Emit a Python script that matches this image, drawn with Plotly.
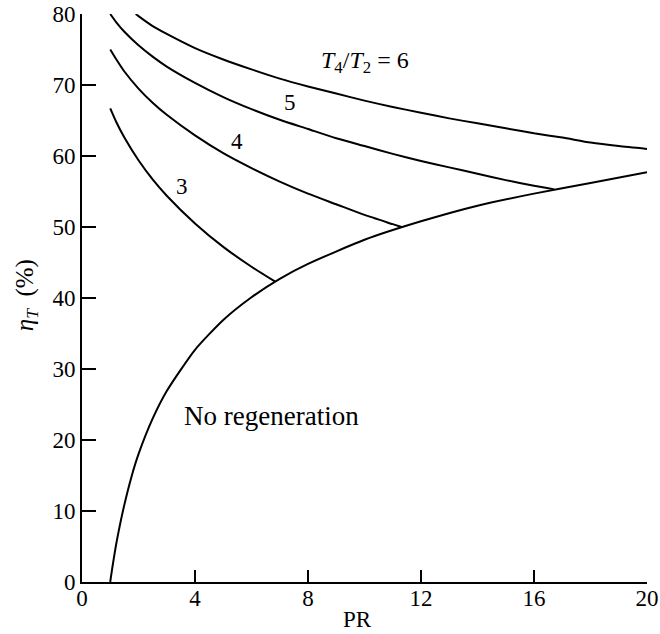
import plotly.graph_objects as go

# Pressure ratio (PR) and thermal efficiency (%)
pr_noregen = [1.0, 1.02, 1.05, 1.1, 1.2, 1.3, 1.5, 1.75, 2, 2.5, 3, 4, 5, 6, 7, 8, 10, 12, 14, 16, 18, 20]
eta_noregen = [0.0, 0.6, 1.4, 2.7, 5.1, 7.2, 10.9, 14.8, 18.0, 23.0, 26.9, 32.7, 36.9, 40.1, 42.7, 44.8, 48.2, 50.8, 53.0, 54.7, 56.2, 57.7]

pr_t3 = [1.0, 1.2, 1.5, 2, 2.5, 3, 4, 5, 6, 6.84]
eta_t3 = [66.7, 64.9, 62.6, 59.4, 56.7, 54.4, 50.5, 47.2, 44.4, 42.3]

pr_t4 = [1.0, 1.2, 1.5, 2, 2.5, 3, 4, 5, 6, 7, 8, 9, 10, 11, 11.31]
eta_t4 = [75.0, 73.7, 71.9, 69.5, 67.5, 65.8, 62.9, 60.4, 58.3, 56.4, 54.7, 53.2, 51.7, 50.4, 50.0]

pr_t5 = [1.0, 1.2, 1.5, 2, 2.5, 3, 4, 5, 6, 7, 8, 9, 10, 11, 12, 13, 14, 15, 16, 16.72]
eta_t5 = [80.0, 78.9, 77.5, 75.6, 74.0, 72.6, 70.3, 68.3, 66.6, 65.1, 63.8, 62.5, 61.4, 60.3, 59.3, 58.4, 57.5, 56.6, 55.8, 55.3]

pr_t6 = [1.9, 2, 2.5, 3, 4, 5, 6, 7, 8, 9, 10, 11, 12, 13, 14, 15, 16, 17, 18, 19, 20]
eta_t6 = [80.0, 79.7, 78.3, 77.2, 75.2, 73.6, 72.2, 70.9, 69.8, 68.8, 67.8, 66.9, 66.1, 65.3, 64.6, 63.9, 63.2, 62.6, 61.9, 61.4, 61.0]

x_ticks = [0, 4, 8, 12, 16, 20]
y_ticks = [0, 10, 20, 30, 40, 50, 60, 70, 80]

FONT = "Liberation Serif"

fig = go.Figure()
for xs, ys in [(pr_noregen, eta_noregen), (pr_t3, eta_t3), (pr_t4, eta_t4), (pr_t5, eta_t5), (pr_t6, eta_t6)]:
    fig.add_trace(go.Scatter(x=xs, y=ys, mode="lines",
                             line=dict(color="black", width=2, shape="spline", smoothing=0.6),
                             showlegend=False, hoverinfo="skip", cliponaxis=False))

labels = [
    (3.55, 55.7, "3", 23),
    (5.5, 62.0, "4", 23),
    (7.35, 67.5, "5", 23),
    (10.0, 73.2, "<i>T</i><sub>4</sub>/<i>T</i><sub>2</sub> = 6", 24),
    (6.7, 23.4, "No regeneration", 27),
]
for x, y, t, s in labels:
    fig.add_annotation(x=x, y=y, xref="x", yref="y", text=t, showarrow=False,
                       font=dict(family=FONT, size=s, color="black"))

fig.add_annotation(x=-0.099, y=0.505, xref="paper", yref="paper",
                   xanchor="center", yanchor="middle",
                   text="<i>η</i><sub><i>T</i></sub>&nbsp;&nbsp;(%)", textangle=-90, showarrow=False,
                   font=dict(family=FONT, size=25, color="black"))
fig.add_annotation(x=0.488, y=-0.066, xref="paper", yref="paper",
                   xanchor="center", yanchor="middle",
                   text="PR", showarrow=False,
                   font=dict(family=FONT, size=23, color="black"))

axis_common = dict(showgrid=False, zeroline=False, showline=True, linecolor="black",
                   linewidth=2, ticks="inside", tickcolor="black", tickwidth=1.5,
                   automargin=False,
                   tickfont=dict(family=FONT, size=23, color="black"))
fig.update_xaxes(range=[0, 20], tickvals=x_ticks, ticklen=12, ticklabelstandoff=-6, **axis_common)
fig.update_yaxes(range=[0, 80], tickvals=y_ticks, ticklen=14, **axis_common)

fig.update_layout(width=660, height=634, plot_bgcolor="white", paper_bgcolor="white",
                  margin=dict(l=82, r=13, t=14, b=52), showlegend=False)

fig.write_html("out.html")
